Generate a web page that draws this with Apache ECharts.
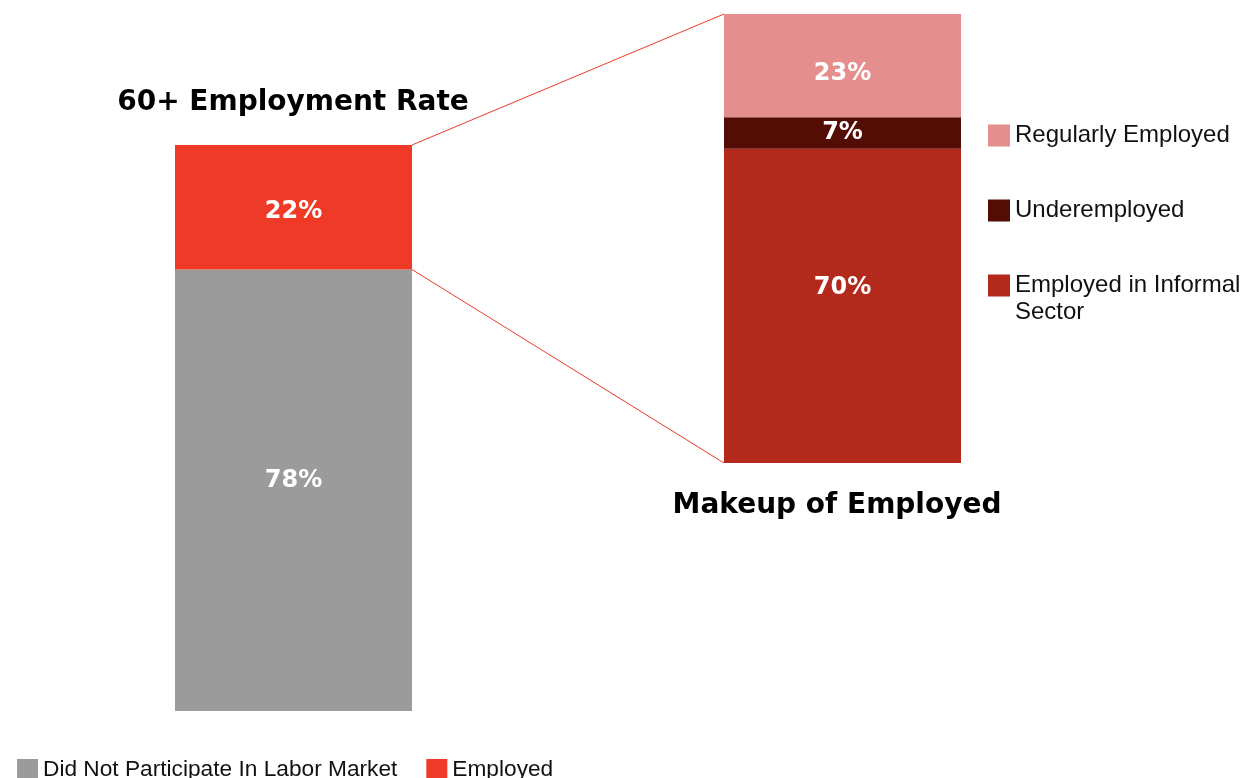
<!DOCTYPE html>
<html><head><meta charset="utf-8">
<script src="https://cdn.jsdelivr.net/npm/echarts@6/dist/echarts.min.js"></script>
<style>html,body{margin:0;padding:0;background:#fff;overflow:hidden}#c{width:1246px;height:778px}</style>
</head><body><div id="c"></div>
<script>
// ---- data ----
const leftCategory = ['60+ Employment Rate'];
const rightCategory = ['Makeup of Employed'];
const leftSeriesNames = ['Did Not Participate In Labor Market', 'Employed'];
const notParticipating = [78];
const employed = [22];
const rightSeriesNames = ['Employed in Informal Sector', 'Underemployed', 'Regularly Employed'];
const informal = [70];
const underemployed = [7];
const regular = [23];

const C = {
  grey: '#9b9b9b', red: '#ee3a26', pink: '#e48f8d', dark: '#530d05', brick: '#b3291b', line: '#ee3a26'
};
const TXT = "'Liberation Sans', Arial, sans-serif";
const BOLD = "'DejaVu Sans', sans-serif";

function lbl(dy) {
  return { show: true, position: 'inside', color: '#fff', fontFamily: BOLD, fontWeight: 'bold', fontSize: 24,
           formatter: p => p.value + '%', offset: [0, dy] };
}

const chart = echarts.init(document.getElementById('c'), null, { renderer: 'canvas' });
const option = {
  animation: false,
  backgroundColor: '#fff',
  title: [
    { text: leftCategory[0], left: 293, top: 89, textAlign: 'center', padding: 0,
      textStyle: { fontFamily: BOLD, fontWeight: 'bold', fontSize: 28, color: '#000' } },
    { text: rightCategory[0], left: 837, top: 492, textAlign: 'center', padding: 0,
      textStyle: { fontFamily: BOLD, fontWeight: 'bold', fontSize: 28, color: '#000' } }
  ],
  grid: [
    { left: 175, top: 145, width: 237, height: 566 },
    { left: 724, top: 14, width: 237, height: 449 }
  ],
  xAxis: [
    { type: 'category', gridIndex: 0, data: leftCategory, show: false },
    { type: 'category', gridIndex: 1, data: rightCategory, show: false }
  ],
  yAxis: [
    { type: 'value', gridIndex: 0, min: 0, max: 100, show: false },
    { type: 'value', gridIndex: 1, min: 0, max: 100, show: false }
  ],
  legend: [
    { data: leftSeriesNames, left: 17, top: 758, padding: 0, itemWidth: 21, itemHeight: 21, itemGap: 29,
      icon: 'rect', selectedMode: false,
      textStyle: { fontFamily: TXT, fontSize: 22.7, color: '#111' } },
    { data: [rightSeriesNames[2]], left: 988, top: 119, padding: 0, itemWidth: 22, itemHeight: 22,
      icon: 'rect', selectedMode: false,
      textStyle: { fontFamily: TXT, fontSize: 24, lineHeight: 27, color: '#111', padding: [6, 0, 0, 0] } },
    { data: [rightSeriesNames[1]], left: 988, top: 194, padding: 0, itemWidth: 22, itemHeight: 22,
      icon: 'rect', selectedMode: false,
      textStyle: { fontFamily: TXT, fontSize: 24, lineHeight: 27, color: '#111', padding: [6, 0, 0, 0] } },
    { data: [rightSeriesNames[0]], left: 988, top: 242, padding: 0, itemWidth: 22, itemHeight: 22,
      icon: 'rect', selectedMode: false,
      formatter: n => '\u00a0\nEmployed in Informal\nSector',
      textStyle: { fontFamily: TXT, fontSize: 24, lineHeight: 27, color: '#111', padding: [6, 0, 0, 0] } }
  ],
  series: [
    { name: leftSeriesNames[0], type: 'bar', stack: 'L', xAxisIndex: 0, yAxisIndex: 0, barWidth: '100%',
      data: notParticipating, itemStyle: { color: C.grey }, label: lbl(-9) },
    { name: leftSeriesNames[1], type: 'bar', stack: 'L', xAxisIndex: 0, yAxisIndex: 0, barWidth: '100%',
      data: employed, itemStyle: { color: C.red }, label: lbl(5) },
    { name: rightSeriesNames[0], type: 'bar', stack: 'R', xAxisIndex: 1, yAxisIndex: 1, barWidth: '100%',
      data: informal, itemStyle: { color: C.brick }, label: lbl(-18) },
    { name: rightSeriesNames[1], type: 'bar', stack: 'R', xAxisIndex: 1, yAxisIndex: 1, barWidth: '100%',
      data: underemployed, itemStyle: { color: C.dark }, label: lbl(0) },
    { name: rightSeriesNames[2], type: 'bar', stack: 'R', xAxisIndex: 1, yAxisIndex: 1, barWidth: '100%',
      data: regular, itemStyle: { color: C.pink }, label: lbl(8) }
  ]
};
chart.setOption(option);

// connector lines derived from the axes' scales
const g0 = chart.getModel().getComponent('grid', 0).coordinateSystem.getRect();
const g1 = chart.getModel().getComponent('grid', 1).coordinateSystem.getRect();
const leftTop = chart.convertToPixel({ yAxisIndex: 0 }, notParticipating[0] + employed[0]);
const leftBoundary = chart.convertToPixel({ yAxisIndex: 0 }, notParticipating[0]);
const rightTop = chart.convertToPixel({ yAxisIndex: 1 }, informal[0] + underemployed[0] + regular[0]);
const rightBottom = chart.convertToPixel({ yAxisIndex: 1 }, 0);
const xL = g0.x + g0.width, xR = g1.x;
chart.setOption({
  graphic: [
    { type: 'line', z: 10, shape: { x1: xL, y1: leftTop, x2: xR, y2: rightTop }, style: { stroke: C.line, lineWidth: 1 } },
    { type: 'line', z: 10, shape: { x1: xL, y1: leftBoundary, x2: xR, y2: rightBottom }, style: { stroke: C.line, lineWidth: 1 } }
  ]
});
</script></body></html>
